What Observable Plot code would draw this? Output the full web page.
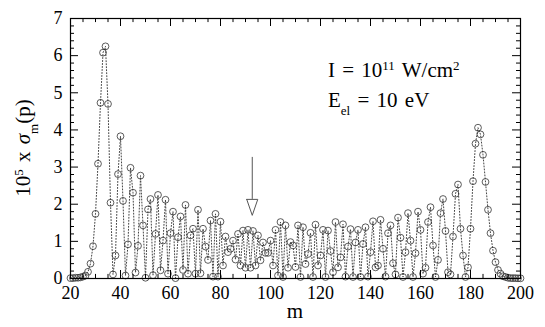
<!DOCTYPE html>
<html><head><meta charset="utf-8">
<script src="https://cdn.jsdelivr.net/npm/d3@7"></script>
<script src="https://cdn.jsdelivr.net/npm/@observablehq/plot@0.6"></script>
<style>body{margin:0;background:#fff} svg{display:block}</style>
</head><body><div id="chart"></div>
<script>
const mValues = [20,21,22,23,24,25,26,27,28,29,30,31,32,33,34,35,36,37,38,39,40,41,42,43,44,45,46,47,48,49,50,51,52,53,54,55,56,57,58,59,60,61,62,63,64,65,66,67,68,69,70,71,72,73,74,75,76,77,78,79,80,81,82,83,84,85,86,87,88,89,90,91,92,93,94,95,96,97,98,99,100,101,102,103,104,105,106,107,108,109,110,111,112,113,114,115,116,117,118,119,120,121,122,123,124,125,126,127,128,129,130,131,132,133,134,135,136,137,138,139,140,141,142,143,144,145,146,147,148,149,150,151,152,153,154,155,156,157,158,159,160,161,162,163,164,165,166,167,168,169,170,171,172,173,174,175,176,177,178,179,180,181,182,183,184,185,186,187,188,189,190,191,192,193,194,195,196,197,198,199,200];
const sigma = [
0.01,0.01,0.02,0.02,0.03,0.05,0.08,0.18,0.40,0.87,
1.74,3.09,4.73,6.08,6.25,4.70,2.04,0.11,0.62,2.81,
3.83,2.09,0.08,0.92,2.98,2.31,0.16,0.88,2.77,1.43,
0.02,1.86,2.14,0.09,1.20,2.25,0.22,1.02,2.12,0.13,
1.22,1.80,0.01,1.11,1.67,0.23,1.98,0.13,1.16,1.34,
0.13,1.85,0.14,1.34,0.86,0.50,1.56,0.05,1.74,0.05,
1.53,0.35,1.13,0.71,0.80,1.02,0.51,1.20,0.35,1.29,
0.29,1.31,0.29,1.28,0.35,1.16,0.49,0.97,0.69,0.69,
1.02,0.35,1.31,0.08,1.52,0.04,1.43,0.29,0.98,0.89,
0.31,1.43,0.04,1.38,0.39,0.66,1.23,0.04,1.45,0.35,
0.62,1.31,0.04,1.29,0.74,0.17,1.52,0.30,0.57,1.46,
0.05,0.86,1.33,0.04,0.97,1.31,0.04,0.93,1.38,0.05,
0.71,1.54,0.30,0.35,1.58,0.80,0.05,1.22,1.43,0.41,
0.11,1.64,1.10,0.04,0.71,1.76,1.02,0.04,0.68,1.80,
1.31,0.13,0.29,1.52,1.92,0.89,0.04,0.50,1.76,2.14,
1.28,0.17,0.11,1.13,2.28,2.53,1.34,0.62,0.04,0.30,
1.34,2.62,3.63,4.06,3.88,3.33,2.60,1.85,1.22,0.75,
0.44,0.23,0.13,0.06,0.04,0.02,0.01,0.01,0.01,0.005,
0.005];
const xTicks = [20,40,60,80,100,120,140,160,180,200];
const xMinor = [25,30,35,45,50,55,65,70,75,85,90,95,105,110,115,125,130,135,145,150,155,165,170,175,185,190,195];
const yTicks = [0,1,2,3,4,5,6,7];
const yMinor = [0.2,0.4,0.6,0.8,1.2,1.4,1.6,1.8,2.2,2.4,2.6,2.8,3.2,3.4,3.6,3.8,4.2,4.4,4.6,4.8,5.2,5.4,5.6,5.8,6.2,6.4,6.6,6.8];
// arrow annotation (data units)
const arrowM = [92.7];
const arrowTop = [3.26];
const arrowBase = [2.13];
const arrowTip = [1.70];
const arrowHalf = [2.2];
// text annotation anchors (data units)
const textM = [123.2];
const textY = [5.40, 4.60];

const data = mValues.map((m, i) => ({m, v: sigma[i]}));
const tri = [
  {m: arrowM[0] - arrowHalf[0], v: arrowBase[0]},
  {m: arrowM[0] + arrowHalf[0], v: arrowBase[0]},
  {m: arrowM[0], v: arrowTip[0]},
  {m: arrowM[0] - arrowHalf[0], v: arrowBase[0]}
];

const xMaj = 0.215, xMin = 0.11, yMaj = 3.2, yMin = 1.6;
const font = "'Liberation Serif', 'DejaVu Serif', serif";

const plot = Plot.plot({
  width: 545, height: 327,
  marginLeft: 70, marginRight: 25, marginTop: 18, marginBottom: 49,
  style: {fontFamily: font, fontSize: "18px", color: "#000", background: "#fff"},
  x: {domain: [20, 200], label: null},
  y: {domain: [0, 7], label: null},
  marks: [
    Plot.line(data, {x: "m", y: "v", stroke: "#444", strokeWidth: 1, strokeDasharray: "1,2"}),
    Plot.dot(data, {x: "m", y: "v", r: 3.4, stroke: "#333", strokeWidth: 0.8, fill: "none"}),
    Plot.ruleX(xTicks, {x: d => d, y1: 0, y2: xMaj, stroke: "#000"}),
    Plot.ruleX(xTicks, {x: d => d, y1: 7 - xMaj, y2: 7, stroke: "#000"}),
    Plot.ruleX(xMinor, {x: d => d, y1: 0, y2: xMin, stroke: "#000"}),
    Plot.ruleX(xMinor, {x: d => d, y1: 7 - xMin, y2: 7, stroke: "#000"}),
    Plot.ruleY(yTicks, {y: d => d, x1: 20, x2: 20 + yMaj, stroke: "#000"}),
    Plot.ruleY(yTicks, {y: d => d, x1: 200 - yMaj, x2: 200, stroke: "#000"}),
    Plot.ruleY(yMinor, {y: d => d, x1: 20, x2: 20 + yMin, stroke: "#000"}),
    Plot.ruleY(yMinor, {y: d => d, x1: 200 - yMin, x2: 200, stroke: "#000"}),
    Plot.axisX({ticks: xTicks, tickSize: 0, tickPadding: 8, tickFormat: "d", label: null}),
    Plot.axisY({ticks: yTicks, tickSize: 0, tickPadding: 8, tickFormat: "d", label: null}),
    Plot.frame({stroke: "#000", strokeWidth: 1.2}),
    Plot.ruleX(arrowM, {x: d => d, y1: arrowTop[0], y2: arrowBase[0], stroke: "#555", strokeWidth: 1}),
    Plot.line(tri, {x: "m", y: "v", stroke: "#555", strokeWidth: 1, fill: "#fff"})
  ]
});
document.getElementById("chart").appendChild(plot);

const sx = plot.scale("x"), sy = plot.scale("y");
const svg = d3.select(plot);
const g = svg.append("g").attr("font-family", font).attr("fill", "#000").attr("text-anchor", "start");

const t1 = g.append("text").attr("x", sx.apply(textM[0])).attr("y", sy.apply(textY[0])).attr("font-size", 21).attr("word-spacing", 2);
t1.append("tspan").text("I = 10");
t1.append("tspan").attr("baseline-shift", "super").attr("font-size", 13).text("11");
t1.append("tspan").text(" W/cm");
t1.append("tspan").attr("baseline-shift", "super").attr("font-size", 13).text("2");

const t2 = g.append("text").attr("x", sx.apply(textM[0])).attr("y", sy.apply(textY[1])).attr("font-size", 21).attr("word-spacing", 2);
t2.append("tspan").text("E");
t2.append("tspan").attr("baseline-shift", "sub").attr("font-size", 13).text("el");
t2.append("tspan").text(" = 10 eV");

const yMid = (sy.apply(0) + sy.apply(7)) / 2;
const t3 = g.append("text").attr("transform", `translate(30,${yMid}) rotate(-90)`).attr("text-anchor", "middle").attr("font-size", 21).attr("word-spacing", 2);
t3.append("tspan").text("10");
t3.append("tspan").attr("baseline-shift", "super").attr("font-size", 13).text("5");
t3.append("tspan").text(" x ");
t3.append("tspan").attr("font-style", "italic").text("σ");
t3.append("tspan").attr("baseline-shift", "sub").attr("font-size", 13).text("m");
t3.append("tspan").text("(p)");

g.append("text").attr("x", (sx.apply(20) + sx.apply(200)) / 2).attr("y", 318).attr("text-anchor", "middle").attr("font-size", 21).text("m");
</script>
</body></html>
